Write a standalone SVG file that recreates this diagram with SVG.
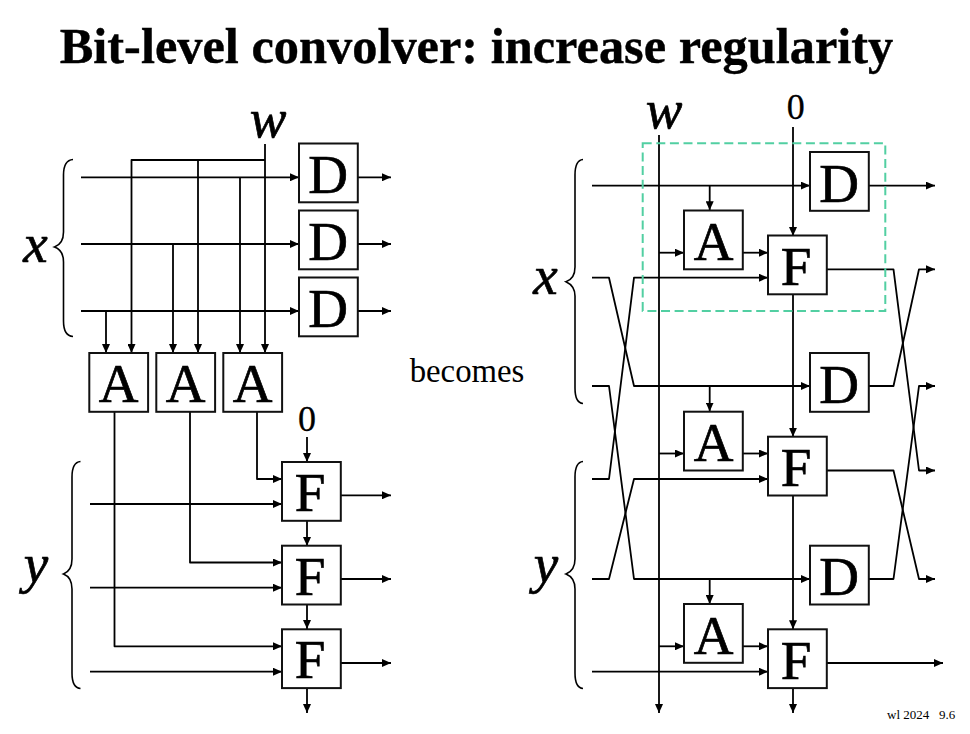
<svg xmlns="http://www.w3.org/2000/svg" width="970" height="734" viewBox="0 0 970 734">
<style>
text{font-family:"Liberation Serif","Times New Roman",serif;fill:#000}
.title{font-size:50.4px;font-weight:bold;text-anchor:middle;stroke:#000;stroke-width:.4}
.box rect{fill:#fff;stroke:#111;stroke-width:2}
.box text{font-size:55px;text-anchor:middle;stroke:#000;stroke-width:.7}
.var{font-size:55px;font-style:italic;text-anchor:middle;stroke:#000;stroke-width:.7}
.zero{font-size:36px;text-anchor:middle;stroke:#000;stroke-width:.3}
.c path{fill:none;stroke:#000;stroke-width:1.8;stroke-linejoin:round}
.c .a{marker-end:url(#arrow)}
.brace{fill:none;stroke:#000;stroke-width:1.6}
.dash{fill:none;stroke:#52cfa2;stroke-width:2;stroke-dasharray:9 4.6}
</style>
<defs>
<marker id="arrow" markerUnits="userSpaceOnUse" markerWidth="10" markerHeight="8" refX="9" refY="4" orient="auto"><path d="M0 0L9 4L0 8Z" fill="#000"/></marker>
</defs>
<rect width="970" height="734" fill="#fff"/>
<text class="title" x="476.5" y="62.7">Bit-level convolver: increase regularity</text>
<g id="connectors" class="c">
<path class="a" d="M81 177.3H299"/><path class="a" d="M81 244H299"/><path class="a" d="M81 311H299"/>
<path class="a" d="M358 177.3H391"/><path class="a" d="M358 244H391"/><path class="a" d="M358 311H391"/>
<path class="a" d="M265 144V353"/><path class="a" d="M265 160H131.5V353"/><path class="a" d="M198 160V353"/>
<path class="a" d="M240 177.3V353"/><path class="a" d="M173 244V353"/><path class="a" d="M106 311V353"/>
<path class="a" d="M114.5 412V646.3H282"/><path class="a" d="M190 412V562.5H282"/><path class="a" d="M257 412V479H282"/>
<path class="a" d="M90 504H282"/><path class="a" d="M90 587.7H282"/><path class="a" d="M90 671.7H282"/>
<path class="a" d="M341 495.3H391"/><path class="a" d="M341 579H391"/><path class="a" d="M341 663H391"/>
<path class="a" d="M307 437V462"/><path class="a" d="M307 521V546"/><path class="a" d="M307 604V629"/><path class="a" d="M307 688V713"/>

<path class="a" d="M659 135V713"/><path class="a" d="M793 127V236"/><path class="a" d="M793 294V436.7"/><path class="a" d="M793 495V629.3"/><path class="a" d="M793 688V713"/>
<path class="a" d="M592 185.6H810"/><path class="a" d="M869 185.6H935"/>
<path class="a" d="M709.7 185.6V210.3"/><path class="a" d="M709.7 386V411.5"/><path class="a" d="M709.7 579V604"/>
<path class="a" d="M659 252.7H684"/><path class="a" d="M743 252.7H768"/>
<path class="a" d="M659 453.5H684"/><path class="a" d="M743 453.5H768"/>
<path class="a" d="M659 646.3H684"/><path class="a" d="M743 646.3H768"/>
<path class="a" d="M592 277.7H609L634 386H810"/><path class="a" d="M592 479H609L634 277.7H768"/>
<path class="a" d="M592 386H609L634 579H810"/><path class="a" d="M592 579H609L634 479H768"/>
<path class="a" d="M592 671.7H768"/>
<path class="a" d="M827 269.3H893.5L919 470.5H935"/><path class="a" d="M869 386H893.5L919 269.3H935"/>
<path class="a" d="M827 470.5H893.5L919 579H935"/><path class="a" d="M869 579H893.5L919 386H935"/>
<path class="a" d="M827 663H943"/>
</g>
<g id="braces">
<path class="brace" d="M73 159.5C66 160 63.5 166 63.5 175V232C63.5 240 60 245 54.5 247C60 249 63.5 254 63.5 262V321C63.5 330 66 336 73 336.5"/>
<path class="brace" d="M80.5 461.5C74 462 72 468 72 477V559C72 567 68.5 572 63.5 574C68.5 576 72 581 72 589V673C72 682 74 688 80.5 688.5"/>
<path class="brace" d="M583 159.5C577 160 575 166 575 175V267C575 275 571 280 566 281.7C571 284 575 289 575 296V388C575 397 577 403 583 403.5"/>
<path class="brace" d="M583 461.5C577 462 575 468 575 477V559C575 567 571 572 566 574C571 576 575 581 575 589V673C575 682 577 688 583 688.5"/>
</g>
<rect id="highlight" class="dash" x="642.7" y="143.3" width="242.6" height="167.7"/>
<g id="d1" class="box"><rect x="299" y="143.5" width="58.8" height="58.8"/><text x="328" y="193">D</text></g>
<g id="d2" class="box"><rect x="299" y="210.5" width="58.8" height="58.8"/><text x="328" y="260">D</text></g>
<g id="d3" class="box"><rect x="299" y="277.5" width="58.8" height="58.8"/><text x="328" y="327">D</text></g>
<g id="a1" class="box"><rect x="89.3" y="353" width="58.8" height="58.8"/><text x="118.5" y="402">A</text></g>
<g id="a2" class="box"><rect x="156.3" y="353" width="58.8" height="58.8"/><text x="185.5" y="402">A</text></g>
<g id="a3" class="box"><rect x="223.3" y="353" width="58.8" height="58.8"/><text x="252.5" y="402">A</text></g>
<g id="f1" class="box"><rect x="282" y="462" width="58.8" height="58.8"/><text x="310" y="511">F</text></g>
<g id="f2" class="box"><rect x="282" y="545.7" width="58.8" height="58.8"/><text x="310" y="594.7">F</text></g>
<g id="f3" class="box"><rect x="282" y="629.3" width="58.8" height="58.8"/><text x="310" y="678.3">F</text></g>
<g id="rd1" class="box"><rect x="810" y="152" width="58.8" height="58.8"/><text x="839" y="201.5">D</text></g>
<g id="rd2" class="box"><rect x="810" y="353" width="58.8" height="58.8"/><text x="839" y="402.5">D</text></g>
<g id="rd3" class="box"><rect x="810" y="545.7" width="58.8" height="58.8"/><text x="839" y="595">D</text></g>
<g id="ra1" class="box"><rect x="684" y="210.5" width="58.8" height="58.8"/><text x="713.5" y="260">A</text></g>
<g id="ra2" class="box"><rect x="684" y="411.7" width="58.8" height="58.8"/><text x="713.5" y="461">A</text></g>
<g id="ra3" class="box"><rect x="684" y="604" width="58.8" height="58.8"/><text x="713.5" y="654">A</text></g>
<g id="rf1" class="box"><rect x="768" y="235.5" width="58.8" height="58.8"/><text x="796" y="285">F</text></g>
<g id="rf2" class="box"><rect x="768" y="436.7" width="58.8" height="58.8"/><text x="796" y="486">F</text></g>
<g id="rf3" class="box"><rect x="768" y="629.3" width="58.8" height="58.8"/><text x="796" y="678.5">F</text></g>
<g id="labels">
<text class="var" x="268" y="136.7">w</text>
<text class="var" x="35.5" y="262">x</text>
<text class="var" x="36" y="582">y</text>
<text class="var" x="664" y="128">w</text>
<text class="var" x="545.5" y="294">x</text>
<text class="var" x="546" y="582">y</text>
<text class="zero" x="307" y="431">0</text>
<text class="zero" x="795.7" y="119">0</text>
<text x="467" y="381.7" style="font-size:32.8px;text-anchor:middle">becomes</text>
<text x="887" y="718.5" style="font-size:13px;white-space:pre">wl 2024   9.6</text>
</g>
</svg>
